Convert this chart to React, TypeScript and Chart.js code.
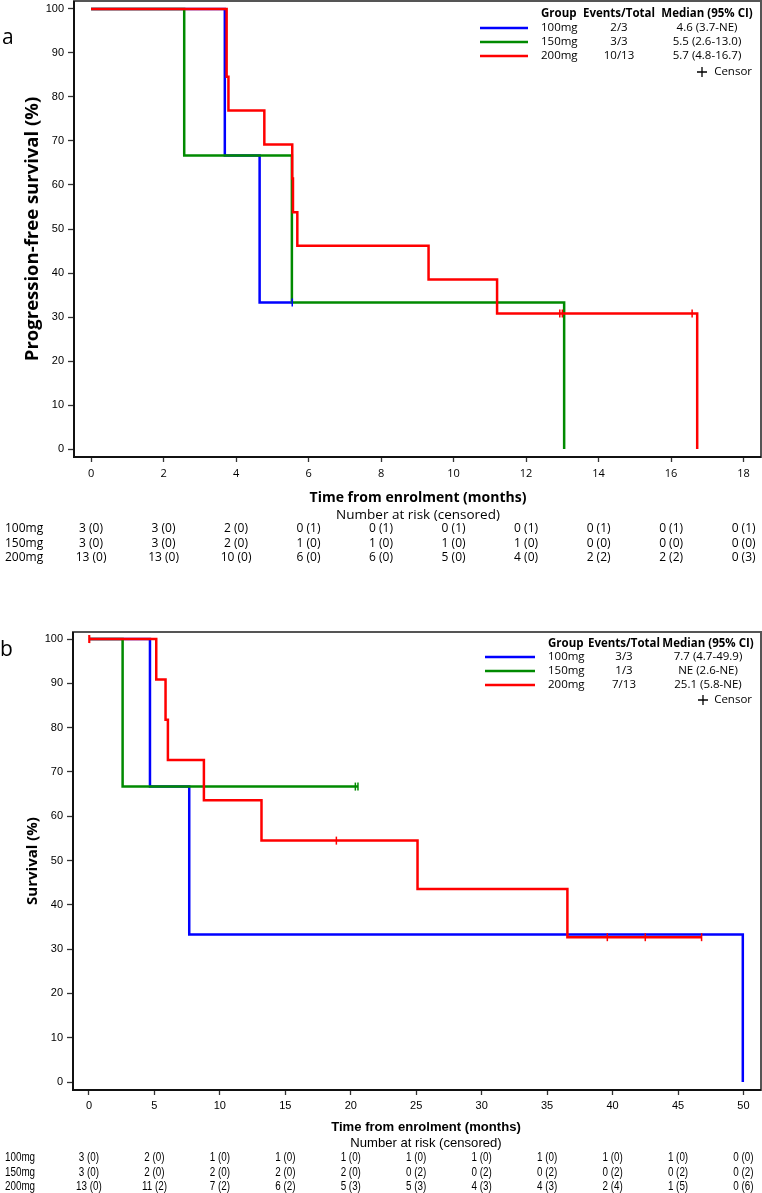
import React, { useEffect, useRef } from 'react';
import { Chart, registerables } from 'chart.js';
Chart.register(...registerables);

// ---------------- shared ----------------
const GROUPS = ['100mg', '150mg', '200mg'];

// ---------------- panel a: progression-free survival ----------------
const pfsXTicks = [0, 2, 4, 6, 8, 10, 12, 14, 16, 18];
const pfsYTicks = [0, 10, 20, 30, 40, 50, 60, 70, 80, 90, 100];

const pfs100Time = [0, 3.69, 4.65, 5.55];
const pfs100Surv = [100, 66.7, 33.3, 33.3];
const pfs100CensorTime = [5.55];
const pfs100CensorSurv = [33.3];

const pfs150Time = [0, 2.57, 5.54, 13.05];
const pfs150Surv = [100, 66.7, 33.3, 0];
const pfs150CensorTime: number[] = [];
const pfs150CensorSurv: number[] = [];

const pfs200Time = [0, 3.74, 3.79, 4.78, 5.55, 5.57, 5.69, 9.31, 11.2, 16.72];
const pfs200Surv = [100, 84.6, 76.9, 69.2, 61.5, 53.8, 46.2, 38.5, 30.8, 0];
const pfs200CensorTime = [12.93, 13.0, 16.58];
const pfs200CensorSurv = [30.8, 30.8, 30.8];

const pfsEvents = ['2/3', '3/3', '10/13'];
const pfsMedian = ['4.6 (3.7-NE)', '5.5 (2.6-13.0)', '5.7 (4.8-16.7)'];

const pfsRisk100 = ['3 (0)', '3 (0)', '2 (0)', '0 (1)', '0 (1)', '0 (1)', '0 (1)', '0 (1)', '0 (1)', '0 (1)'];
const pfsRisk150 = ['3 (0)', '3 (0)', '2 (0)', '1 (0)', '1 (0)', '1 (0)', '1 (0)', '0 (0)', '0 (0)', '0 (0)'];
const pfsRisk200 = ['13 (0)', '13 (0)', '10 (0)', '6 (0)', '6 (0)', '5 (0)', '4 (0)', '2 (2)', '2 (2)', '0 (3)'];

// ---------------- panel b: overall survival ----------------
const osXTicks = [0, 5, 10, 15, 20, 25, 30, 35, 40, 45, 50];
const osYTicks = [0, 10, 20, 30, 40, 50, 60, 70, 80, 90, 100];

const os100Time = [0, 4.66, 7.66, 49.95];
const os100Surv = [100, 66.7, 33.3, 0];
const os100CensorTime: number[] = [];
const os100CensorSurv: number[] = [];

const os150Time = [0, 2.57, 20.55];
const os150Surv = [100, 66.7, 66.7];
const os150CensorTime = [20.35, 20.55];
const os150CensorSurv = [66.7, 66.7];

const os200Time = [0, 5.14, 5.85, 6.03, 8.78, 13.18, 25.1, 36.55, 46.8];
const os200Surv = [100, 90.9, 81.8, 72.7, 63.6, 54.5, 43.6, 32.7, 32.7];
const os200CensorTime = [0.0, 0.05, 18.9, 39.6, 42.5, 46.8];
const os200CensorSurv = [100, 100, 54.5, 32.7, 32.7, 32.7];

const osEvents = ['3/3', '1/3', '7/13'];
const osMedian = ['7.7 (4.7-49.9)', 'NE (2.6-NE)', '25.1 (5.8-NE)'];

const osRisk100 = ['3 (0)', '2 (0)', '1 (0)', '1 (0)', '1 (0)', '1 (0)', '1 (0)', '1 (0)', '1 (0)', '1 (0)', '0 (0)'];
const osRisk150 = ['3 (0)', '2 (0)', '2 (0)', '2 (0)', '2 (0)', '0 (2)', '0 (2)', '0 (2)', '0 (2)', '0 (2)', '0 (2)'];
const osRisk200 = ['13 (0)', '11 (2)', '7 (2)', '6 (2)', '5 (3)', '5 (3)', '4 (3)', '4 (3)', '2 (4)', '1 (5)', '0 (6)'];

// ---------------- styles ----------------
const COLORS = ['#0000ff', '#008a00', '#ff0000'];
const OPEN = '"Open Sans", "DejaVu Sans", sans-serif';
const LIB = '"Liberation Sans", Arial, sans-serif';
const NARROW = '"Liberation Sans Narrow", "Liberation Sans", Arial, sans-serif';

type Series = { time: number[]; surv: number[]; cTime: number[]; cSurv: number[] };

type Panel = {
  top: number;
  height: number;
  label: string;
  labelX: number;
  labelY: number;
  xMin: number; xMax: number; yMin: number; yMax: number;
  xTicks: number[]; yTicks: number[];
  series: Series[];
  padTop: number; xAxisH: number; yAxisW: number;
  xTickFont: any; yTickFont: any; xTickPad: number;
  xTitle: string; yTitle: string;
  titleX: number; titleY: number; subY: number; yTitleX: number; yTitleY: number; yTitleFont: string;
  titleFont: string; subFont: string; titleScale: number;
  risk: string[][]; riskY: number[]; riskFont: string; riskScale: number;
  events: string[]; medians: string[];
  lg: { lineX0: number; lineX1: number; groupX: number; evX: number; medX: number; headY: number; rowY: number[]; plusX: number; censorX: number; censorY: number };
};

const panelA: Panel = {
  top: 0, height: 590, label: 'a', labelX: 2, labelY: 44,
  xMin: -0.47, xMax: 18.48, yMin: -1.8, yMax: 101.8,
  xTicks: pfsXTicks, yTicks: pfsYTicks,
  series: [
    { time: pfs100Time, surv: pfs100Surv, cTime: pfs100CensorTime, cSurv: pfs100CensorSurv },
    { time: pfs150Time, surv: pfs150Surv, cTime: pfs150CensorTime, cSurv: pfs150CensorSurv },
    { time: pfs200Time, surv: pfs200Surv, cTime: pfs200CensorTime, cSurv: pfs200CensorSurv },
  ],
  padTop: 1, xAxisH: 590 - 457, yAxisW: 74,
  xTickFont: { family: OPEN, size: 11 }, yTickFont: { family: LIB, size: 11 }, xTickPad: 5,
  xTitle: 'Time from enrolment (months)', yTitle: 'Progression-free survival (%)',
  titleX: 418, titleY: 498, subY: 515, yTitleX: 33, yTitleY: 229, yTitleFont: `bold 18.5px ${OPEN}`,
  titleFont: `bold 14px ${OPEN}`, subFont: `13.5px ${OPEN}`, titleScale: 1,
  risk: [pfsRisk100, pfsRisk150, pfsRisk200], riskY: [529, 544, 558], riskFont: `12px ${OPEN}`, riskScale: 1,
  events: pfsEvents, medians: pfsMedian,
  lg: { lineX0: 480, lineX1: 528, groupX: 541, evX: 619, medX: 707, headY: 14, rowY: [28, 42, 56], plusX: 702, censorX: 752, censorY: 72 },
};

const panelB: Panel = {
  top: 600, height: 593, label: 'b', labelX: 0, labelY: 56,
  xMin: -1.22, xMax: 51.34, yMin: -1.8, yMax: 101.6,
  xTicks: osXTicks, yTicks: osYTicks,
  series: [
    { time: os100Time, surv: os100Surv, cTime: os100CensorTime, cSurv: os100CensorSurv },
    { time: os150Time, surv: os150Surv, cTime: os150CensorTime, cSurv: os150CensorSurv },
    { time: os200Time, surv: os200Surv, cTime: os200CensorTime, cSurv: os200CensorSurv },
  ],
  padTop: 32, xAxisH: 593 - 490, yAxisW: 73,
  xTickFont: { family: NARROW, size: 11 }, yTickFont: { family: NARROW, size: 11 }, xTickPad: 4,
  xTitle: 'Time from enrolment (months)', yTitle: 'Survival (%)',
  titleX: 426, titleY: 527, subY: 543, yTitleX: 33, yTitleY: 261, yTitleFont: `bold 15px ${OPEN}`,
  titleFont: `bold 13.5px ${LIB}`, subFont: `13.5px ${LIB}`, titleScale: 0.97,
  risk: [osRisk100, osRisk150, osRisk200], riskY: [558, 573, 587], riskFont: `12px ${LIB}`, riskScale: 0.82,
  events: osEvents, medians: osMedian,
  lg: { lineX0: 485, lineX1: 535, groupX: 548, evX: 624, medX: 708, headY: 44, rowY: [57, 71, 85], plusX: 703, censorX: 752, censorY: 100 },
};

function txt(ctx: CanvasRenderingContext2D, s: string, x: number, y: number, font: string, align: CanvasTextAlign = 'left', sx = 1, baseline: CanvasTextBaseline = 'middle') {
  ctx.save();
  ctx.font = font;
  ctx.fillStyle = '#000';
  ctx.textAlign = align;
  ctx.textBaseline = baseline;
  ctx.translate(x, y);
  ctx.scale(sx, 1);
  ctx.fillText(s, 0, 0);
  ctx.restore();
}

function drawOverlay(chart: any, p: Panel) {
  const ctx: CanvasRenderingContext2D = chart.ctx;
  const a = chart.chartArea;
  const xs = chart.scales.x;
  ctx.save();
  // frame
  ctx.lineWidth = 2;
  ctx.strokeStyle = '#555';
  ctx.strokeRect(a.left, a.top, a.right - a.left, a.bottom - a.top);
  ctx.strokeStyle = '#111';
  ctx.beginPath();
  ctx.moveTo(a.left, a.top);
  ctx.lineTo(a.left, a.bottom);
  ctx.lineTo(a.right, a.bottom);
  ctx.stroke();

  // panel label
  txt(ctx, p.label, p.labelX, p.labelY, `21px ${OPEN}`, 'left', 1, 'alphabetic');

  // y title
  ctx.save();
  ctx.translate(p.yTitleX, p.yTitleY);
  ctx.rotate(-Math.PI / 2);
  txt(ctx, p.yTitle, 0, 0, p.yTitleFont, 'center');
  ctx.restore();

  // x title + subtitle
  txt(ctx, p.xTitle, p.titleX, p.titleY, p.titleFont, 'center', p.titleScale);
  txt(ctx, 'Number at risk (censored)', p.titleX, p.subY, p.subFont, 'center', p.titleScale);

  // risk table
  p.risk.forEach((row, i) => {
    txt(ctx, GROUPS[i], 5, p.riskY[i], p.riskFont, 'left', p.riskScale);
    row.forEach((v, j) => {
      txt(ctx, v, xs.getPixelForValue(p.xTicks[j]), p.riskY[i], p.riskFont, 'center', p.riskScale);
    });
  });

  // legend
  const lg = p.lg;
  const bold = `bold 11.5px ${OPEN}`;
  const reg = `11.5px ${OPEN}`;
  txt(ctx, 'Group', lg.groupX, lg.headY, bold, 'left');
  txt(ctx, 'Events/Total', lg.evX, lg.headY, bold, 'center');
  txt(ctx, 'Median (95% CI)', lg.medX, lg.headY, bold, 'center');
  GROUPS.forEach((g, i) => {
    ctx.strokeStyle = COLORS[i];
    ctx.lineWidth = 2.5;
    ctx.beginPath();
    ctx.moveTo(lg.lineX0, lg.rowY[i]);
    ctx.lineTo(lg.lineX1, lg.rowY[i]);
    ctx.stroke();
    txt(ctx, g, lg.groupX, lg.rowY[i], reg, 'left');
    txt(ctx, p.events[i], lg.evX, lg.rowY[i], reg, 'center');
    txt(ctx, p.medians[i], lg.medX, lg.rowY[i], reg, 'center');
  });
  ctx.strokeStyle = '#000';
  ctx.lineWidth = 1.3;
  ctx.beginPath();
  ctx.moveTo(lg.plusX - 5, lg.censorY);
  ctx.lineTo(lg.plusX + 5, lg.censorY);
  ctx.moveTo(lg.plusX, lg.censorY - 5);
  ctx.lineTo(lg.plusX, lg.censorY + 5);
  ctx.stroke();
  txt(ctx, 'Censor', lg.censorX, lg.censorY, reg, 'right');
  ctx.restore();
}

function buildConfig(p: Panel): any {
  const datasets: any[] = [];
  // index 0 is drawn on top: censor marks first, then red, green, blue
  for (let i = p.series.length - 1; i >= 0; i--) {
    const s = p.series[i];
    datasets.push({
      data: s.cTime.map((t, k) => ({ x: t, y: s.cSurv[k] })),
      showLine: false,
      pointStyle: 'line',
      rotation: 90,
      pointRadius: 4,
      pointBorderWidth: 1.5,
      pointBorderColor: COLORS[i],
      pointBackgroundColor: COLORS[i],
      borderColor: COLORS[i],
    });
  }
  for (let i = p.series.length - 1; i >= 0; i--) {
    const s = p.series[i];
    datasets.push({
      data: s.time.map((t, k) => ({ x: t, y: s.surv[k] })),
      stepped: 'before',
      borderColor: COLORS[i],
      borderWidth: 2.5,
      pointRadius: 0,
      fill: false,
      tension: 0,
    });
  }
  return {
    type: 'line',
    data: { datasets },
    options: {
      responsive: false,
      animation: false,
      devicePixelRatio: 1,
      events: [],
      layout: { autoPadding: false, padding: { top: p.padTop, right: 1, left: 0, bottom: 0 } },
      plugins: { legend: { display: false }, tooltip: { enabled: false } },
      scales: {
        x: {
          type: 'linear',
          min: p.xMin,
          max: p.xMax,
          afterBuildTicks: (s: any) => { s.ticks = p.xTicks.map((v) => ({ value: v })); },
          afterFit: (s: any) => { s.height = p.xAxisH; s.paddingLeft = 0; s.paddingRight = 0; },
          ticks: { font: p.xTickFont, color: '#000', padding: p.xTickPad, maxRotation: 0, autoSkip: false, callback: (v: any) => String(v) },
          grid: { display: true, drawOnChartArea: false, drawTicks: true, tickLength: 5, tickColor: '#333', tickWidth: 1.3 },
          border: { display: false },
        },
        y: {
          type: 'linear',
          min: p.yMin,
          max: p.yMax,
          afterBuildTicks: (s: any) => { s.ticks = p.yTicks.map((v) => ({ value: v })); },
          afterFit: (s: any) => { s.width = p.yAxisW; s.paddingTop = 0; s.paddingBottom = 0; },
          ticks: { font: p.yTickFont, color: '#000', padding: 4, autoSkip: false, callback: (v: any) => String(v) },
          grid: { display: true, drawOnChartArea: false, drawTicks: true, tickLength: 6, tickColor: '#333', tickWidth: 1.3 },
          border: { display: false },
        },
      },
    },
    plugins: [{ id: 'kmOverlay', afterDraw: (chart: any) => drawOverlay(chart, p) }],
  };
}

function KMPanel({ panel }: { panel: Panel }) {
  const ref = useRef<HTMLCanvasElement>(null);
  useEffect(() => {
    const chart = new Chart(ref.current as HTMLCanvasElement, buildConfig(panel));
    return () => chart.destroy();
  }, [panel]);
  return (
    <canvas
      ref={ref}
      width={762}
      height={panel.height}
      style={{ position: 'absolute', left: 0, top: panel.top, width: 762, height: panel.height }}
    />
  );
}

export default function App() {
  return (
    <div style={{ position: 'absolute', left: 0, top: 0, width: 762, height: 1193, background: '#fff' }}>
      <KMPanel panel={panelA} />
      <KMPanel panel={panelB} />
    </div>
  );
}
